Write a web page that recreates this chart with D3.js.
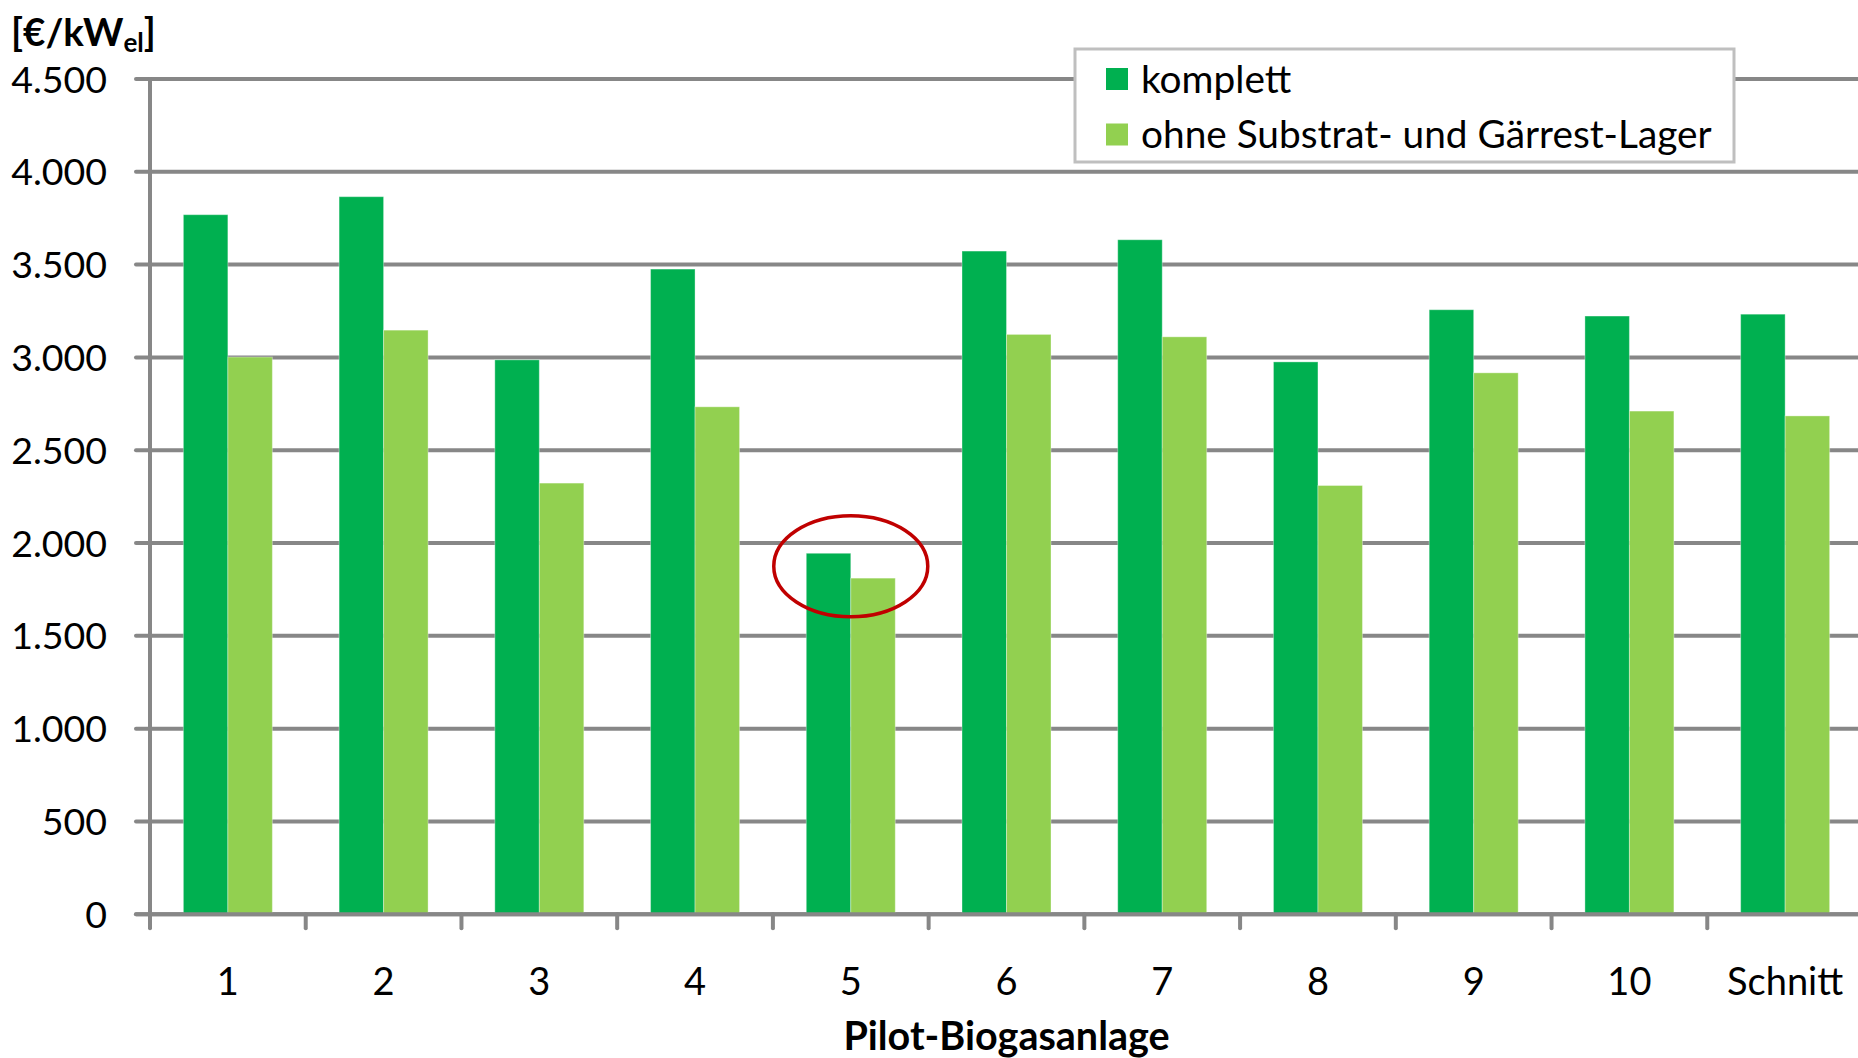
<!DOCTYPE html>
<html>
<head>
<meta charset="utf-8">
<script src="https://cdn.jsdelivr.net/npm/d3@7"></script>
<style>
  html, body { margin: 0; padding: 0; background: #fff; }
  svg { display: block; }
  text { font-family: Lato, "Open Sans", sans-serif; fill: #000; }
</style>
</head>
<body>
<svg id="chart" width="1858" height="1058"></svg>
<script>
const categories = ["1", "2", "3", "4", "5", "6", "7", "8", "9", "10", "Schnitt"];
const seriesNames = ["komplett", "ohne Substrat- und Gärrest-Lager"];
const komplett = [3769, 3866, 2987, 3476, 1945, 3573, 3634, 2976, 3257, 3223, 3233];
const ohneLager = [3002, 3147, 2323, 2734, 1811, 3124, 3111, 2310, 2917, 2711, 2685];
const yTicks = [0, 500, 1000, 1500, 2000, 2500, 3000, 3500, 4000, 4500];
const colors = ["#00B050", "#92D050"];
const highlightCategory = "5";
const highlightValue = 1875;

const svg = d3.select("#chart");
const fmt = v => d3.format(",")(v).replace(/,/g, ".");

const x0 = d3.scaleBand().domain(categories).range([150, 1863]).padding(0);
const x1 = d3.scaleBand().domain(seriesNames).range([0, x0.bandwidth()]).paddingInner(0).paddingOuter(0.75);
const y = d3.scaleLinear().domain([0, 4500]).range([914.3, 79]);

const grey = "#878787";

// gridlines + y tick marks
svg.append("g").selectAll("line").data(yTicks).join("line")
  .attr("x1", 136).attr("x2", 1858)
  .attr("y1", d => y(d)).attr("y2", d => y(d))
  .attr("stroke", grey).attr("stroke-width", 4).attr("stroke-linecap", "round");

// y tick labels
svg.append("g").selectAll("text").data(yTicks).join("text")
  .attr("x", 107).attr("y", d => y(d)).attr("dy", "0.36em")
  .attr("text-anchor", "end").attr("font-size", 37.5)
  .text(d => fmt(d));

// bars
const data = categories.map((c, i) => ({cat: c, vals: [komplett[i], ohneLager[i]]}));
const groups = svg.append("g").selectAll("g").data(data).join("g")
  .attr("transform", d => `translate(${x0(d.cat)},0)`);
groups.selectAll("rect").data(d => d.vals.map((v, j) => ({s: seriesNames[j], v, j}))).join("rect")
  .attr("x", d => x1(d.s)).attr("width", x1.bandwidth())
  .attr("y", d => y(d.v)).attr("height", d => y(0) - y(d.v))
  .attr("fill", d => colors[d.j])
  .attr("stroke", "#ffffff").attr("stroke-opacity", 0.35).attr("stroke-width", 1);

// x axis line
svg.append("line").attr("x1", 136).attr("x2", 1858).attr("y1", y(0)).attr("y2", y(0))
  .attr("stroke", grey).attr("stroke-width", 4).attr("stroke-linecap", "round");
// y axis line
svg.append("line").attr("x1", 150).attr("x2", 150).attr("y1", y(4500)).attr("y2", y(0) + 14)
  .attr("stroke", grey).attr("stroke-width", 4).attr("stroke-linecap", "round");
// x ticks at band boundaries
svg.append("g").selectAll("line").data(categories.slice(1)).join("line")
  .attr("x1", d => x0(d)).attr("x2", d => x0(d))
  .attr("y1", y(0)).attr("y2", y(0) + 14)
  .attr("stroke", grey).attr("stroke-width", 4).attr("stroke-linecap", "round");

// x labels
svg.append("g").selectAll("text").data(categories).join("text")
  .attr("x", d => x0(d) + x0.bandwidth() / 2).attr("y", 995)
  .attr("text-anchor", "middle").attr("font-size", 38)
  .text(d => d);

// axis title
svg.append("text").attr("x", (x0.range()[0] + x0.range()[1]) / 2).attr("y", 1050)
  .attr("text-anchor", "middle").attr("font-size", 39.5).attr("font-weight", "bold")
  .text("Pilot-Biogasanlage");

// y unit label
const yl = svg.append("text").attr("x", 11).attr("y", 46).attr("font-size", 38.5).attr("font-weight", "bold");
yl.append("tspan").text("[€/kW");
yl.append("tspan").attr("font-size", 26).attr("dy", 6).text("el");
yl.append("tspan").attr("dy", -6).text("]");

// highlight ellipse
svg.append("ellipse")
  .attr("cx", x0(highlightCategory) + x0.bandwidth() / 2)
  .attr("cy", y(highlightValue))
  .attr("rx", 77).attr("ry", 50.5)
  .attr("fill", "none").attr("stroke", "#C00000").attr("stroke-width", 3.5);

// legend
const lg = svg.append("g");
lg.append("rect").attr("x", 1075).attr("y", 49).attr("width", 659).attr("height", 113)
  .attr("fill", "#fff").attr("stroke", "#BFBFBF").attr("stroke-width", 3);
seriesNames.forEach((s, i) => {
  const cy = 79 + i * 55.5;
  lg.append("rect").attr("x", 1106).attr("y", cy - 11).attr("width", 22).attr("height", 22).attr("fill", colors[i]);
  lg.append("text").attr("x", 1141).attr("y", cy).attr("dy", "0.36em").attr("font-size", 38.8).text(s);
});
</script>
</body>
</html>
